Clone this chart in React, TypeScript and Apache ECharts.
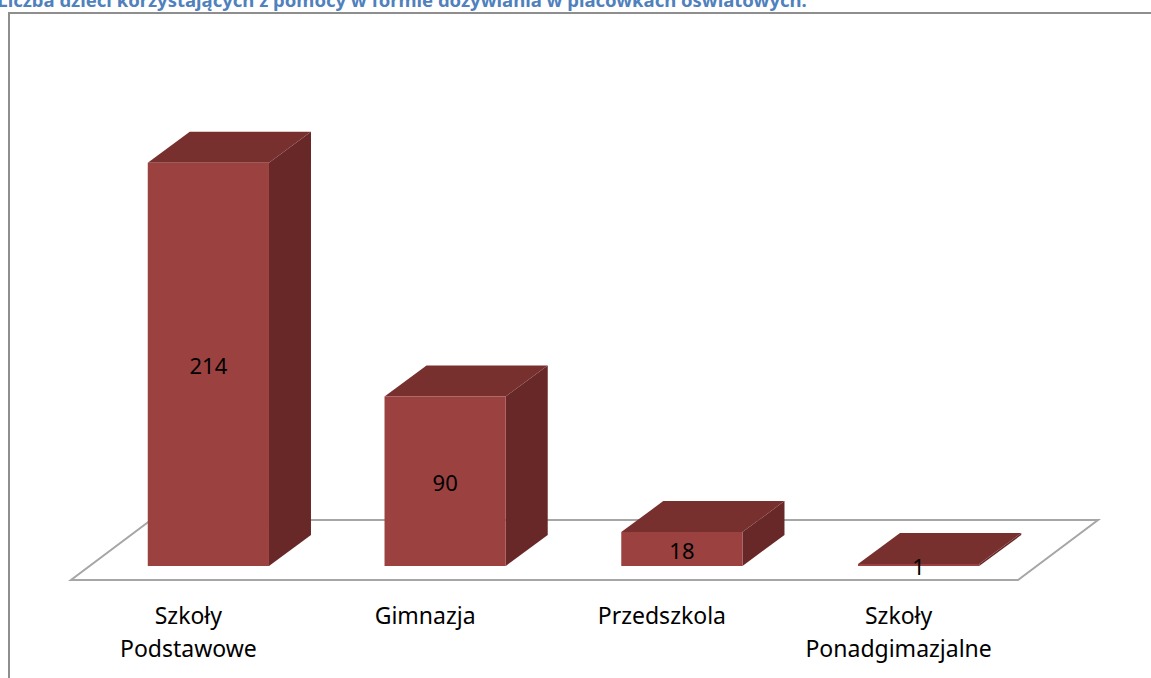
import React, { useEffect, useRef } from "react";
import * as echarts from "echarts";

const titleText = "Liczba dzieci korzystających z pomocy w formie dożywiania w placówkach oświatowych.";
const categories = ["Szkoły\nPodstawowe", "Gimnazja", "Przedszkola", "Szkoły\nPonadgimazjalne"];
const values = [214, 90, 18, 1];

const FRONT = "#9B4240";
const TOP = "#78302F";
const SIDE = "#692828";
const FLOOR_LINE = "#A6A6A6";
const DX = 42;
const DY = -31;

export default function App() {
  const ref = useRef<HTMLDivElement>(null);
  useEffect(() => {
    const chart = echarts.init(ref.current!, null, { renderer: "svg" });
    const barData = values.map((v, i) => [i, v]);
    chart.setOption({
      animation: false,
      backgroundColor: "#ffffff",
      grid: { left: 90, right: 114, top: 95, bottom: 112 },
      xAxis: {
        type: "category",
        data: categories,
        axisLine: { show: false },
        axisTick: { show: false },
        splitLine: { show: false },
        axisLabel: {
          interval: 0,
          margin: 32,
          fontFamily: "Noto Sans",
          fontSize: 23,
          lineHeight: 33,
          color: "#000",
          padding: [0, 40, 0, 0],
        },
      },
      yAxis: { type: "value", min: 0, max: 250, show: false },
      graphic: [
        { type: "line", shape: { x1: 8, y1: 13, x2: 1151, y2: 13 }, style: { stroke: "#8E8E8E", lineWidth: 2 } },
        { type: "line", shape: { x1: 9, y1: 13, x2: 9, y2: 678 }, style: { stroke: "#8E8E8E", lineWidth: 2 } },
        {
          type: "text",
          x: 402,
          y: 9,
          style: {
            text: titleText,
            fill: "#4F81BD",
            font: "bold 18.5px 'Noto Sans'",
            textAlign: "center",
            textVerticalAlign: "bottom",
          },
        },
      ],
      series: [
        {
          type: "custom",
          z: 1,
          data: [[0]],
          renderItem: (params: any, api: any) => {
            const cs = params.coordSys;
            const base = api.coord([0, 0])[1];
            const fy = base + 14;
            const by = base - 46;
            const fl = cs.x - 19;
            const fr = cs.x + cs.width - 19;
            return {
              type: "polygon",
              shape: { points: [[fl, fy], [fr, fy], [fr + 80, by], [fl + 80, by]] },
              style: { fill: "#ffffff", stroke: FLOOR_LINE, lineWidth: 2 },
            };
          },
        },
        {
          type: "custom",
          z: 2,
          data: barData,
          renderItem: (params: any, api: any) => {
            const idx = api.value(0);
            const val = api.value(1);
            const bottom = api.coord([idx, 0]);
            const top = api.coord([idx, val]);
            const bw = api.size([1, 0])[0] * 0.512;
            const cx = bottom[0];
            const l = cx - bw / 2;
            const r = cx + bw / 2;
            const t = top[1];
            const b = bottom[1];
            return {
              type: "group",
              children: [
                {
                  type: "polygon",
                  shape: { points: [[r, t], [r + DX, t + DY], [r + DX, b + DY], [r, b]] },
                  style: { fill: SIDE },
                },
                {
                  type: "polygon",
                  shape: { points: [[l, t], [r, t], [r + DX, t + DY], [l + DX, t + DY]] },
                  style: { fill: TOP },
                },
                {
                  type: "rect",
                  shape: { x: l, y: t, width: bw, height: Math.max(b - t, 1) },
                  style: { fill: FRONT },
                },
                {
                  type: "text",
                  x: cx,
                  y: (t + b) / 2 + 1,
                  style: {
                    text: String(val),
                    fill: "#000",
                    font: "22px 'Noto Sans'",
                    textAlign: "center",
                    textVerticalAlign: "middle",
                  },
                },
              ],
            };
          },
        },
      ],
    });
    return () => chart.dispose();
  }, []);
  return (
    <div
      ref={ref}
      style={{ position: "fixed", left: 0, top: 0, width: 1151, height: 678 }}
    />
  );
}
